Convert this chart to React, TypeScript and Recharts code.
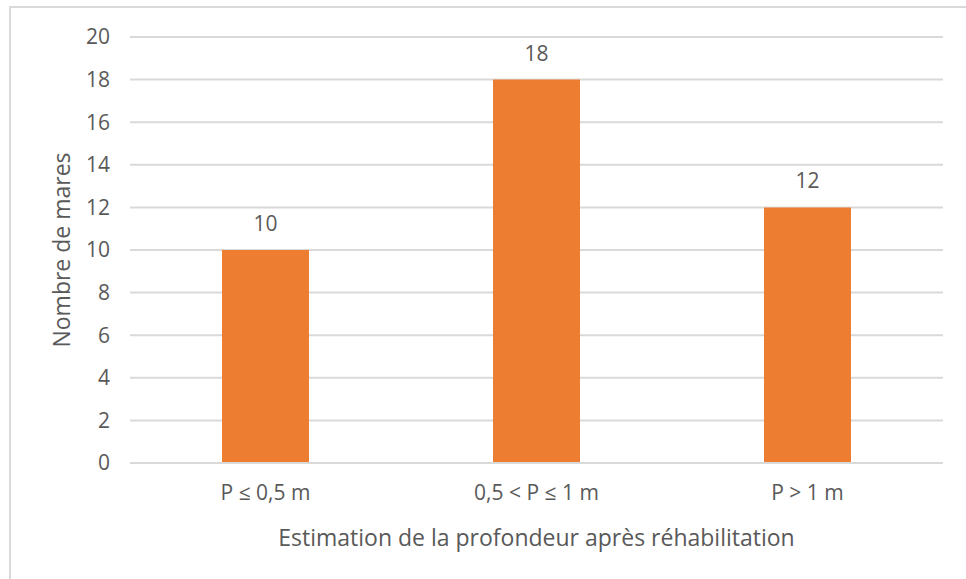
import { BarChart, Bar, XAxis, YAxis, CartesianGrid, LabelList } from 'recharts';

const categories = ['P ≤ 0,5 m', '0,5 < P ≤ 1 m', 'P > 1 m'];
const mares = [10, 18, 12];
const yTicks = [0, 2, 4, 6, 8, 10, 12, 14, 16, 18, 20];

const data = categories.map((name, i) => ({ name, value: mares[i] }));

const font = '"Open Sans", sans-serif';
const textColor = '#595959';

export default function App() {
    return (
        <div style={{ position: 'absolute', left: 0, top: 0, width: 966, height: 579, overflow: 'hidden', background: '#fff', fontFamily: font }}>
            <div style={{ position: 'absolute', left: 9, top: 6, width: 1000, height: 700, border: '2px solid #d9d9d9', boxSizing: 'border-box' }} />
            <div style={{ position: 'absolute', left: 0, top: 0 }}>
                <BarChart width={966} height={579} data={data} margin={{ top: 37, right: 23, left: 70, bottom: 46 }}>
                    <CartesianGrid vertical={false} stroke='#d9d9d9' strokeWidth={2}></CartesianGrid>
                    <XAxis
                        dataKey="name"
                        axisLine={{ stroke: '#d9d9d9', strokeWidth: 2 }}
                        tickLine={false}
                        tickSize={0}
                        tickMargin={22}
                        height={70}
                        tick={{ fill: textColor, fontSize: 21, fontFamily: font }}
                        label={{ value: 'Estimation de la profondeur après réhabilitation', position: 'insideBottom', offset: -13, fill: textColor, fontSize: 23, fontFamily: font }}
                    ></XAxis>
                    <YAxis
                        domain={[0, 20]}
                        ticks={yTicks}
                        axisLine={false}
                        tickLine={false}
                        tickSize={0}
                        tickMargin={20}
                        width={60}
                        tick={{ fill: textColor, fontSize: 21, fontFamily: font }}
                        label={{ value: 'Nombre de mares', angle: -90, position: 'insideLeft', offset: 0, dx: -8, fill: textColor, fontSize: 23, fontFamily: font, style: { textAnchor: 'middle' } }}
                    ></YAxis>
                    <Bar dataKey="value" fill='#ED7D31' barSize={87} isAnimationActive={false}>
                        <LabelList dataKey="value" position="top" offset={19} fill={textColor} fontSize={21} fontFamily={font}></LabelList>
                    </Bar>
                </BarChart>
            </div>
        </div>
    );
}
